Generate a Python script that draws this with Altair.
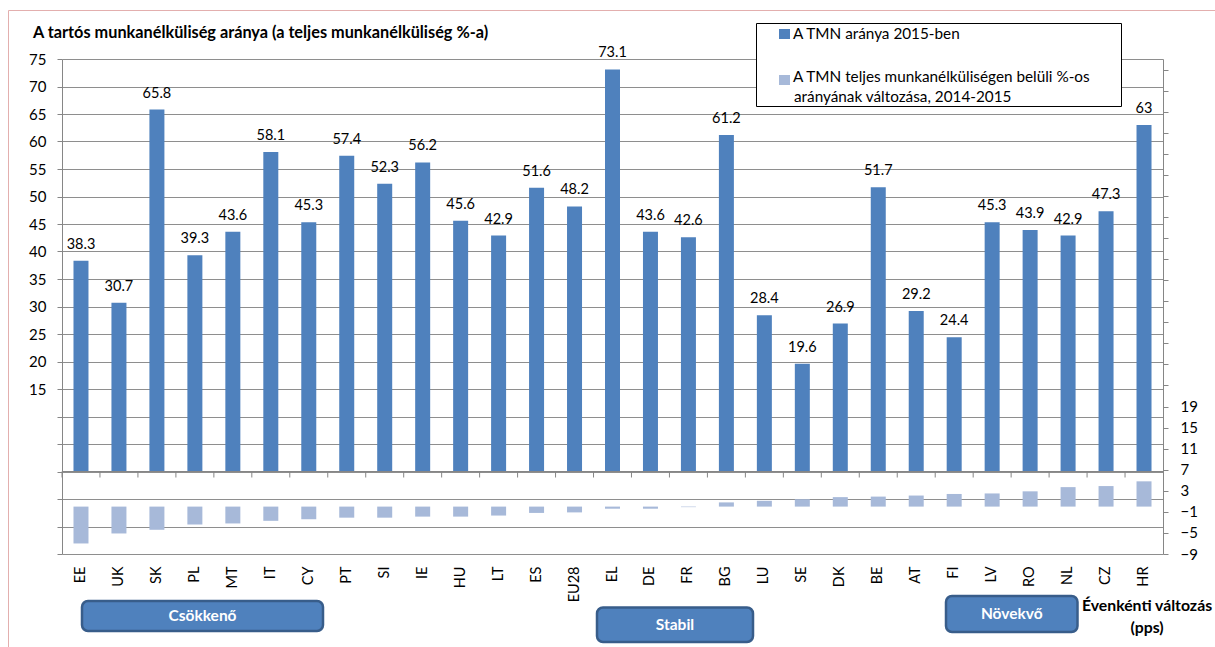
import altair as alt
import pandas as pd

categories = ["EE", "UK", "SK", "PL", "MT", "IT", "CY", "PT", "SI", "IE", "HU", "LT", "ES", "EU28",
              "EL", "DE", "FR", "BG", "LU", "SE", "DK", "BE", "AT", "FI", "LV", "RO", "NL", "CZ", "HR"]
tmn_2015 = [38.3, 30.7, 65.8, 39.3, 43.6, 58.1, 45.3, 57.4, 52.3, 56.2, 45.6, 42.9, 51.6, 48.2,
            73.1, 43.6, 42.6, 61.2, 28.4, 19.6, 26.9, 51.7, 29.2, 24.4, 45.3, 43.9, 42.9, 47.3, 63]
change_2014_2015 = [-7.0, -5.1, -4.4, -3.4, -3.2, -2.7, -2.4, -2.1, -2.1, -1.9, -1.9, -1.7, -1.2, -1.1,
                    -0.4, -0.4, -0.1, 0.8, 1.1, 1.4, 1.8, 1.9, 2.1, 2.4, 2.5, 2.9, 3.7, 3.9, 4.8]
series_names = ["A TMN aránya 2015-ben",
                "A TMN teljes munkanélküliségen belüli %-os",
                "arányának változása, 2014-2015"]
group_labels = ["Csökkenő", "Stabil", "Növekvő"]
title_text = "A tartós munkanélküliség aránya (a teljes munkanélküliség %-a)"
right_note = ["Évenkénti változás", "(pps)"]

FONT = "Lato"
BLUE = "#4F81BD"
LIGHT = "#A7B9D9"
AX = "#868686"
GRID = "#8E8E8E"
W, H = 1101, 495
PL, PT = 62, 59

df = pd.DataFrame({"cat": categories, "tmn": tmn_2015, "chg": change_2014_2015})
one = pd.DataFrame({"k": [0]})

xscale = alt.Scale(domain=categories, paddingInner=0, paddingOuter=0)
xaxis = alt.Axis(title=None, labelAngle=-90, ticks=False, domain=False, grid=False,
                 labelPadding=12, labelFont=FONT, labelFontSize=14.5, labelColor="black",
                 labelOverlap=False)


def xenc(**kw):
    return alt.X("cat:N", sort=categories, scale=xscale, axis=xaxis, **kw)


yl_scale = alt.Scale(domain=[-15, 75], nice=False, zero=False)
yl_axis = alt.Axis(title=None, orient="left", values=list(range(-15, 80, 5)),
                   labelExpr="datum.value >= 15 ? datum.label : ' '", labelOverlap=False,
                   grid=True, gridColor=GRID, gridWidth=1, domainColor=AX, tickColor=AX,
                   tickSize=5, labelPadding=11, labelFont=FONT, labelFontSize=15, labelColor="black")
yr_scale = alt.Scale(domain=[-9, 85], nice=False, zero=False)
yr_axis = alt.Axis(title=None, orient="right", values=list(range(-9, 84, 4)),
                   labelExpr="datum.value <= 19 ? datum.label : ' '", labelOverlap=False,
                   grid=False, domainColor=AX, tickColor=AX,
                   tickSize=5, labelPadding=12, labelFont=FONT, labelFontSize=15, labelColor="black")

bars_main = alt.Chart(df).mark_bar(size=15, color=BLUE).encode(
    x=xenc(), y=alt.Y("tmn:Q", scale=yl_scale, axis=yl_axis))
labels_main = alt.Chart(df).mark_text(dy=-12, baseline="alphabetic", font=FONT, fontSize=14.5,
                                      color="black").encode(
    x=xenc(), y=alt.Y("tmn:Q", scale=yl_scale, axis=yl_axis),
    text=alt.Text("tmn:Q", format=".3~g"))
zero_rule = alt.Chart(pd.DataFrame({"v": [0]})).mark_rule(color=AX, strokeWidth=1.2).encode(
    y=alt.Y("v:Q", scale=yl_scale, axis=yl_axis))
cat_ticks = alt.Chart(df).mark_rule(color=AX, y2Offset=6).encode(
    x=xenc(bandPosition=0), y=alt.YDatum(0, scale=yl_scale, axis=yl_axis), y2=alt.Y2Datum(0))

main = alt.layer(bars_main, zero_rule, cat_ticks, labels_main)

bars_chg = alt.Chart(df).mark_bar(size=15, color=LIGHT).encode(
    x=xenc(), y=alt.Y("chg:Q", scale=yr_scale, axis=yr_axis))


def px_rect(x, x2, y, y2, **mk):
    return alt.Chart(one).mark_rect(**mk).encode(
        x=alt.value(x - PL), x2=alt.value(x2 - PL), y=alt.value(y - PT), y2=alt.value(y2 - PT))


def px_text(t, x, y, **mk):
    return alt.Chart(pd.DataFrame({"t": [t]})).mark_text(font=FONT, baseline="middle", **mk).encode(
        x=alt.value(x - PL), y=alt.value(y - PT), text="t:N")


annots = []
# outer chart border (pink)
annots.append(px_rect(8.5, 1240, 10.5, 680, fill=None, fillOpacity=0, stroke="#E3AFAE", strokeWidth=1))
# title
annots.append(px_text(title_text, 33, 33, align="left", fontSize=16.3, fontWeight="bold", color="black"))
# legend
annots.append(px_rect(756.5, 1121.5, 23.5, 106.5, fill="white", stroke="black", strokeWidth=1))
annots.append(px_rect(779, 790, 29, 39, fill=BLUE))
annots.append(px_rect(779, 790, 75, 85, fill=LIGHT))
annots.append(px_text(series_names[0], 793, 33.5, align="left", fontSize=15.3, color="black"))
annots.append(px_text(series_names[1], 793, 77, align="left", fontSize=15.3, color="black"))
annots.append(px_text(series_names[2], 794, 96.5, align="left", fontSize=15.3, color="black"))
# group buttons
buttons = [(82, 323, 601, 631), (597, 753, 607.5, 642), (946, 1077.5, 596, 632)]
for lab, (x1, x2, y1, y2) in zip(group_labels, buttons):
    annots.append(px_rect(x1, x2, y1, y2, fill=BLUE, stroke="#385D8A", strokeWidth=2.5, cornerRadius=6))
    annots.append(px_text(lab, (x1 + x2) / 2, (y1 + y2) / 2, align="center", fontSize=15.5,
                          fontWeight="bold", color="white"))
# right axis note
annots.append(px_text(right_note[0], 1147, 606, align="center", fontSize=15.8, fontWeight="bold", color="black"))
annots.append(px_text(right_note[1], 1147, 628, align="center", fontSize=15.8, fontWeight="bold", color="black"))

chart = alt.layer(main, bars_chg, *annots).resolve_scale(y="independent").properties(
    width=W, height=H, autosize="none",
    padding={"left": PL, "top": PT, "right": 1215 - PL - W, "bottom": 647 - PT - H},
    background="white",
).configure_view(stroke=None).configure_axis(labelOverlap=False)

chart.save("out.html", embed_options={"renderer": "svg", "actions": False})
